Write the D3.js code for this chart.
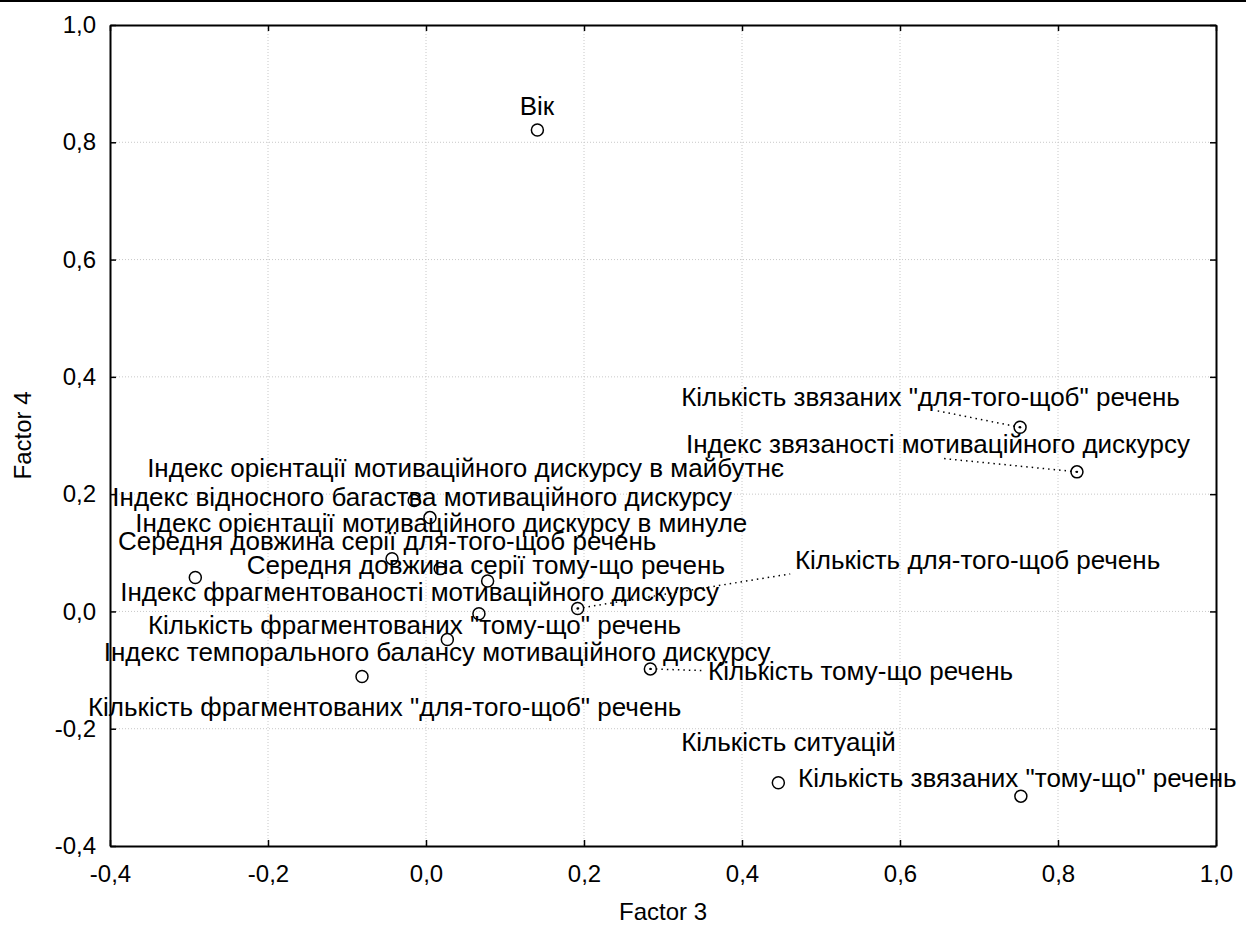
<!DOCTYPE html>
<html><head><meta charset="utf-8">
<script src="https://cdn.jsdelivr.net/npm/d3@7"></script>
<style>
html,body{margin:0;padding:0;background:#fff;}
svg text{font-family:"Liberation Sans",Arial,sans-serif;fill:#000;}
</style></head>
<body>
<svg id="c" width="1246" height="928"></svg>
<script>
const variables = [
  "Вік",
  "Кількість звязаних \"для-того-щоб\" речень",
  "Індекс звязаності мотиваційного дискурсу",
  "Індекс орієнтації мотиваційного дискурсу в майбутнє",
  "Індекс відносного багаства мотиваційного дискурсу",
  "Індекс орієнтації мотиваційного дискурсу в минуле",
  "Середня довжина серії для-того-щоб речень",
  "Середня довжина серії тому-що речень",
  "Кількість для-того-щоб речень",
  "Індекс фрагментованості мотиваційного дискурсу",
  "Кількість фрагментованих \"тому-що\" речень",
  "Індекс темпорального балансу мотиваційного дискурсу",
  "Кількість тому-що речень",
  "Кількість фрагментованих \"для-того-щоб\" речень",
  "Кількість ситуацій",
  "Кількість звязаних \"тому-що\" речень"
];
const factor3 = [0.141, 0.752, 0.824, -0.015, 0.005, 0.018, -0.043, 0.078, 0.192, -0.292, 0.067, 0.027, 0.284, -0.081, 0.446, 0.753];
const factor4 = [0.821, 0.314, 0.238, 0.189, 0.160, 0.073, 0.090, 0.052, 0.005, 0.058, -0.004, -0.048, -0.098, -0.111, -0.292, -0.315];
// label anchors in data units (Factor 3, Factor 4)
const labelF3 = [0.1405, 0.323, 0.329, -0.353, -0.397, -0.368, -0.390, -0.227, 0.467, -0.387, -0.352, -0.408, 0.357, -0.428, 0.323, 0.471];
const labelF4 = [0.846, 0.351, 0.271, 0.230, 0.179, 0.136, 0.105, 0.064, 0.073, 0.017, -0.038, -0.084, -0.117, -0.178, -0.238, -0.299];
// leader line ends in data units (null = no leader)
const leaderF3 = [null, 0.644, 0.653, null, null, null, null, null, 0.461, null, null, null, 0.353, null, null, null];
const leaderF4 = [null, 0.343, 0.261, null, null, null, null, null, 0.064, null, null, null, -0.101, null, null, null];
const xTicks = [-0.4, -0.2, 0.0, 0.2, 0.4, 0.6, 0.8, 1.0];
const yTicks = [-0.4, -0.2, 0.0, 0.2, 0.4, 0.6, 0.8, 1.0];
const xTitle = "Factor 3", yTitle = "Factor 4";

const svg = d3.select("#c");
const m = {l:110, r:1216, t:25, b:846};
const x = d3.scaleLinear().domain([-0.4, 1.0]).range([m.l, m.r]);
const y = d3.scaleLinear().domain([-0.4, 1.0]).range([m.b, m.t]);
const fmt = v => d3.format(".1f")(v).replace(".", ",").replace("−", "-");

// top rule
svg.append("line").attr("x1",0).attr("x2",1246).attr("y1",1).attr("y2",1).attr("stroke","#000").attr("stroke-width",2);

// grid
const g = svg.append("g");
g.selectAll(".gx").data(xTicks.slice(1,-1)).join("line")
  .attr("x1",d=>x(d)).attr("x2",d=>x(d)).attr("y1",m.t).attr("y2",m.b)
  .attr("stroke","#c8c8c8").attr("stroke-dasharray","1,2").attr("stroke-width",1);
g.selectAll(".gy").data(yTicks.slice(1,-1)).join("line")
  .attr("y1",d=>y(d)).attr("y2",d=>y(d)).attr("x1",m.l).attr("x2",m.r)
  .attr("stroke","#c8c8c8").attr("stroke-dasharray","1,2").attr("stroke-width",1);

// axes with inward ticks
const ax = svg.append("g").attr("transform",`translate(0,${m.b})`)
  .call(d3.axisBottom(x).tickValues(xTicks).tickFormat(fmt).tickSizeInner(-6).tickSizeOuter(0).tickPadding(14));
const ay = svg.append("g").attr("transform",`translate(${m.l},0)`)
  .call(d3.axisLeft(y).tickValues(yTicks).tickFormat(fmt).tickSizeInner(-6).tickSizeOuter(0).tickPadding(14));
const axt = svg.append("g").attr("transform",`translate(0,${m.t})`)
  .call(d3.axisTop(x).tickValues(xTicks).tickFormat("").tickSizeInner(-6).tickSizeOuter(0));
const ayr = svg.append("g").attr("transform",`translate(${m.r},0)`)
  .call(d3.axisRight(y).tickValues(yTicks).tickFormat("").tickSizeInner(-6).tickSizeOuter(0));
[ax,ay,axt,ayr].forEach(a=>{
  a.select(".domain").attr("stroke","#000").attr("stroke-width",2);
  a.selectAll(".tick line").attr("stroke","#000").attr("stroke-width",1.5);
  a.selectAll("text").attr("font-size",24).attr("font-family","Liberation Sans, Arial, sans-serif").attr("fill","#000");
});
ax.selectAll("text").attr("dy","0.9em");

// titles
svg.append("text").attr("x",(m.l+m.r)/2).attr("y",920).attr("text-anchor","middle").attr("font-size",24).text(xTitle);
svg.append("text").attr("transform",`translate(31,${(m.t+m.b)/2}) rotate(-90)`).attr("text-anchor","middle").attr("font-size",24).text(yTitle);

const idx = d3.range(variables.length);

// leader lines
svg.append("g").selectAll("line").data(idx.filter(i=>leaderF3[i]!==null)).join("line")
  .attr("x1",i=>x(factor3[i])).attr("y1",i=>y(factor4[i]))
  .attr("x2",i=>x(leaderF3[i])).attr("y2",i=>y(leaderF4[i]))
  .attr("stroke","#000").attr("stroke-width",1.5).attr("stroke-dasharray","1.5,4");

// points
svg.append("g").selectAll("circle").data(idx).join("circle")
  .attr("cx",i=>x(factor3[i])).attr("cy",i=>y(factor4[i])).attr("r",6)
  .attr("fill","none").attr("stroke","#000").attr("stroke-width",1.5);
svg.append("g").selectAll("circle").data(idx.filter(i=>leaderF3[i]!==null)).join("circle")
  .attr("cx",i=>x(factor3[i])).attr("cy",i=>y(factor4[i])).attr("r",1.2).attr("fill","#000");

// labels
svg.append("g").selectAll("text").data(idx).join("text")
  .attr("x",i=>x(labelF3[i])).attr("y",i=>y(labelF4[i]))
  .attr("text-anchor",i=>i===0?"middle":"start")
  .attr("font-size",26).text(i=>variables[i]);
</script>
</body></html>
